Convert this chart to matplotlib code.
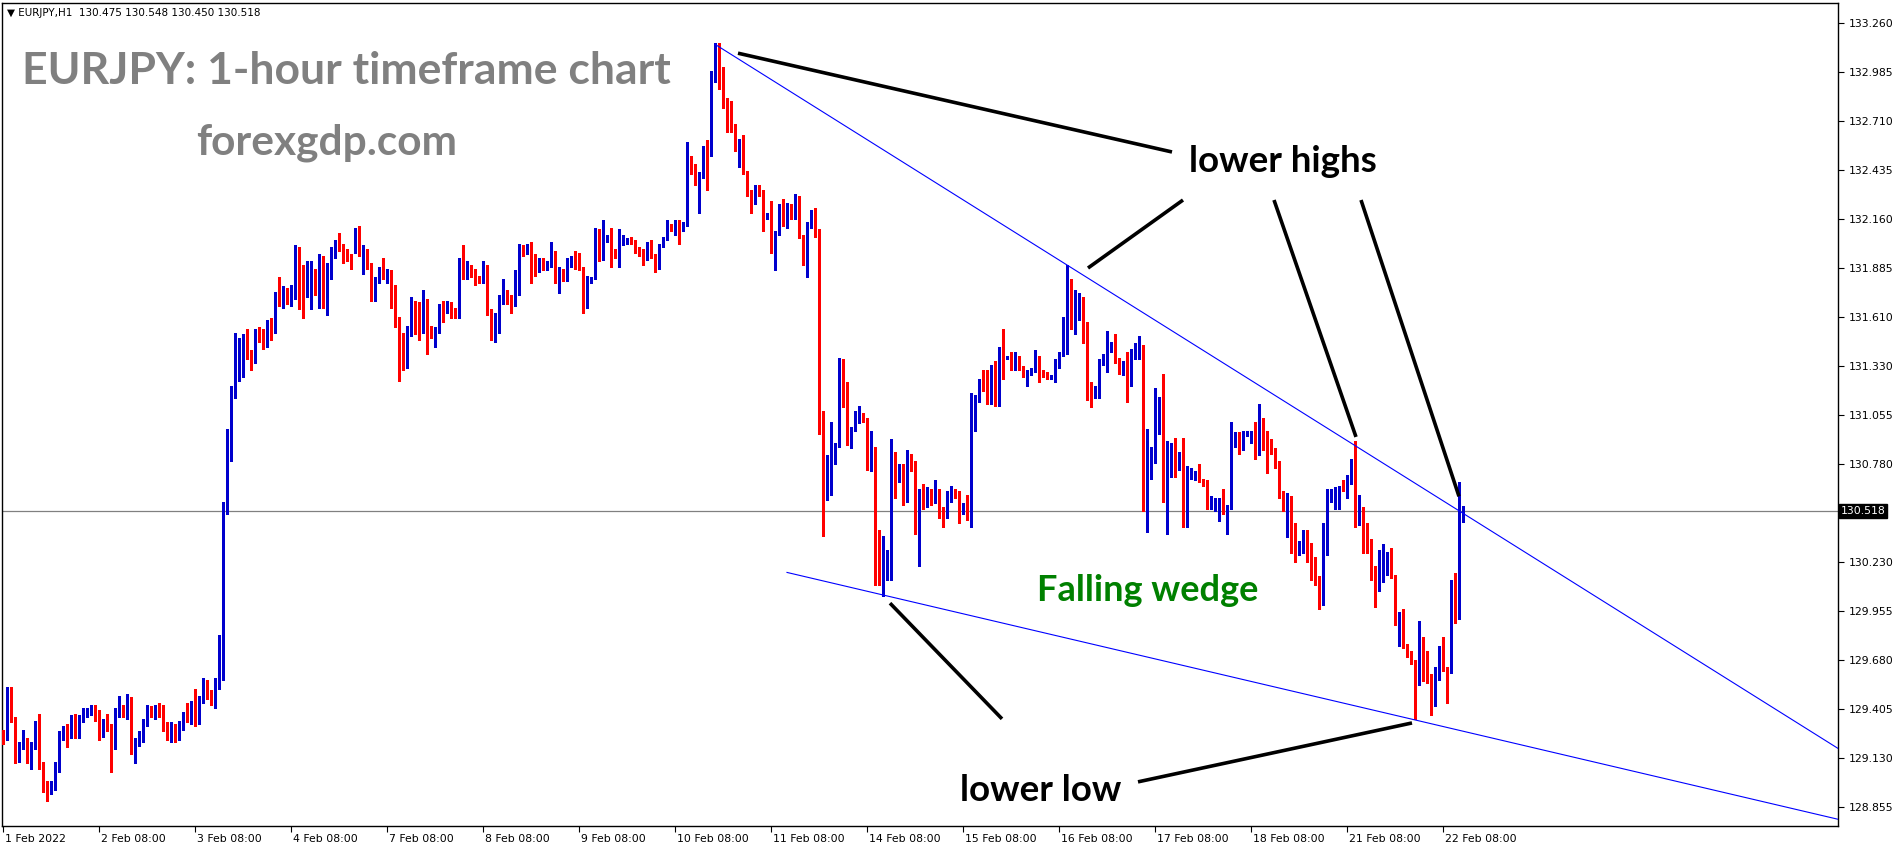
import matplotlib
matplotlib.use("Agg")
import matplotlib.pyplot as plt
import matplotlib.transforms as mtransforms

# EURJPY H1 candles, bar 0 = 1 Feb 08:00 ... bar 365 = 22 Feb 13:00
closes = [
    129.24, 129.50, 129.35, 129.14, 129.20, 129.22, 129.13, 129.20, 129.28, 129.10, 128.98, 128.96,
    128.97, 129.06, 129.25, 129.28, 129.26, 129.35, 129.27, 129.35, 129.38, 129.39, 129.41, 129.37,
    129.27, 129.33, 129.31, 129.20, 129.39, 129.41, 129.38, 129.44, 129.16, 129.22, 129.25, 129.33,
    129.39, 129.38, 129.41, 129.38, 129.31, 129.25, 129.30, 129.26, 129.31, 129.36, 129.35, 129.43,
    129.34, 129.46, 129.53, 129.49, 129.47, 129.55, 129.69, 130.56, 130.82, 131.18, 131.27, 131.44,
    131.49, 131.40, 131.38, 131.52, 131.51, 131.46, 131.58, 131.52, 131.75, 131.71, 131.73, 131.71,
    131.74, 131.99, 131.88, 131.76, 131.78, 131.86, 131.74, 131.93, 131.67, 131.89, 131.96, 132.01,
    132.00, 131.95, 131.94, 131.90, 132.07, 131.98, 131.99, 131.91, 131.75, 131.82, 131.85, 131.84,
    131.85, 131.76, 131.60, 131.38, 131.36, 131.53, 131.70, 131.66, 131.61, 131.66, 131.53, 131.50,
    131.53, 131.68, 131.66, 131.67, 131.64, 131.63, 131.92, 131.85, 131.89, 131.84, 131.83, 131.81,
    131.88, 131.63, 131.58, 131.60, 131.70, 131.75, 131.73, 131.68, 131.74, 131.98, 131.97, 132.01,
    131.93, 131.87, 131.94, 131.90, 131.91, 131.95, 131.85, 131.87, 131.84, 131.91, 131.94, 131.90,
    131.88, 131.67, 131.82, 131.83, 132.07, 131.94, 132.04, 132.05, 131.99, 131.95, 132.02, 132.04,
    132.04, 132.03, 131.99, 131.97, 131.95, 132.01, 131.95, 131.89, 132.01, 132.05, 132.12, 132.10,
    132.12, 132.11, 132.13, 132.50, 132.46, 132.40, 132.41, 132.55, 132.52, 132.96, 133.08, 133.00,
    132.83, 132.70, 132.66, 132.55, 132.60, 132.42, 132.31, 132.25, 132.33, 132.30, 132.17, 132.17,
    132.00, 132.08, 132.21, 132.13, 132.23, 132.18, 132.25, 132.06, 132.00, 132.13, 132.19, 132.07,
    130.96, 130.62, 130.75, 130.99, 130.89, 131.35, 131.12, 130.95, 130.98, 131.02, 131.05, 131.03,
    130.85, 130.86, 130.18, 130.13, 130.27, 130.28, 130.78, 130.69, 130.77, 130.67, 130.83, 130.79,
    130.40, 130.63, 130.57, 130.63, 130.59, 130.63, 130.51, 130.49, 130.62, 130.63, 130.62, 130.52,
    130.54, 130.48, 131.14, 131.16, 131.23, 131.22, 131.15, 131.33, 131.12, 131.42, 131.38, 131.38,
    131.32, 131.35, 131.32, 131.29, 131.30, 131.31, 131.38, 131.30, 131.29, 131.27, 131.27, 131.35,
    131.40, 131.54, 131.80, 131.59, 131.67, 131.69, 131.48, 131.23, 131.19, 131.20, 131.35, 131.35,
    131.43, 131.44, 131.37, 131.30, 131.34, 131.23, 131.39, 131.42, 131.44, 130.56, 130.73, 130.87,
    130.97, 131.15, 130.71, 130.76, 130.86, 130.76, 130.83, 130.50, 130.71, 130.71, 130.72, 130.69,
    130.68, 130.54, 130.54, 130.57, 130.58, 130.52, 130.54, 130.89, 130.95, 130.87, 130.95, 130.95,
    130.96, 130.89, 131.03, 130.94, 130.90, 130.85, 130.79, 130.60, 130.53, 130.59, 130.34, 130.28,
    130.33, 130.40, 130.33, 130.25, 130.13, 130.09, 130.41, 130.58, 130.58, 130.59, 130.65, 130.64,
    130.70, 130.72, 130.52, 130.53, 130.43, 130.35, 130.20, 130.13, 130.19, 130.19, 130.26, 130.15,
    129.89, 129.90, 129.76, 129.72, 129.67, 129.62, 129.80, 129.67, 129.59, 129.43, 129.63, 129.72,
    129.63, 129.62, 130.12, 129.92, 130.47, 130.518,
]
first_open = 129.27
gap_opens = {88: 132.05, 208: 130.79, 365: 130.475}   # weekend gaps / last bar

# wick lengths beyond the body, one base-36 digit per bar, in 0.01 yen
wick_up = "".join([
    "23312722", "6a123533", "42323222", "32512725", "32324323", "52323382",
    "925423d1", "g4p52522", "33120854", "5212e623", "22437242", "45200149",
    "3231e320", "3a532023", "22293141", "42233710", "d4312300", "18321314",
    "712043b2", "60831211", "22311131", "33191112", "537711c3", "13112222",
    "91362154", "11233c83", "132c1662", "1b2nb2e7", "11311142", "16131311",
    "27413891", "32c13641", "11411112", "17a2953a", "1225a371", "274461p1",
    "o1ef472a", "65261162", "161d1122", "16913221", "331b2111", "12466614",
    "29j81211", "be351571", "11a16114", "9115l3",
])
wick_dn = "".join([
    "31243236", "23473212", "72332223", "423f2323", "16232232", "32343223",
    "3223463c", "6232h373", "43240453", "43ng4d18", "15722422", "83d35522",
    "4a5d543f", "d9d16183", "43333141", "11ab8255", "1121d313", "325b3322",
    "14121211", "a1612122", "52131111", "392155l2", "k13b5511", "a1261181",
    "3d112221", "ah211o4e", "11268111", "ab839efa", "1ca51j43", "43361537",
    "215h3333", "11c11112", "72162113", "31e58829", "94515221", "2a1254g3",
    "82ew5517", "71212112", "b2d11311", "5868h131", "1g6515ac", "3cae1561",
    "5398f77f", "67311d12", "1r8b4616", "1i1312",
])

price_ticks = [133.260, 132.985, 132.710, 132.435, 132.160, 131.885, 131.610, 131.330,
               131.055, 130.780, 130.230, 129.955, 129.680, 129.405, 129.130, 128.855]
date_labels = ["1 Feb 2022", "2 Feb 08:00", "3 Feb 08:00", "4 Feb 08:00", "7 Feb 08:00",
               "8 Feb 08:00", "9 Feb 08:00", "10 Feb 08:00", "11 Feb 08:00", "14 Feb 08:00",
               "15 Feb 08:00", "16 Feb 08:00", "17 Feb 08:00", "18 Feb 08:00", "21 Feb 08:00",
               "22 Feb 08:00"]
bars_per_label = 24
last_price = 130.518

# wedge lines: (bar, price) anchors
upper_pts = [(178, 133.14), (266, 131.90)]
lower_pts = [(220, 130.046), (353, 129.344)]
lower_start = 196

BULL = "#0000CD"
BEAR = "#FF0000"

n = len(closes)
opens = [gap_opens.get(i, closes[i - 1] if i else first_open) for i in range(n)]
highs = [max(o, c) + int(u, 36) * 0.01 for o, c, u in zip(opens, closes, wick_up)]
lows = [min(o, c) - int(d, 36) * 0.01 for o, c, d in zip(opens, closes, wick_dn)]

W, H = 1902, 850
fig = plt.figure(figsize=(W / 100, H / 100), dpi=100)
ax = fig.add_axes([2 / W, 24 / H, 1836 / W, 823 / H])
xmin, xmax = -0.25, 458.75
ax.set_xlim(xmin, xmax)
ax.set_ylim(128.748, 133.372)

# candles, drawn crisp like the terminal does
xs = list(range(n))
cols = [BULL if c >= o else BEAR for o, c in zip(opens, closes)]
ax.vlines(xs, lows, highs, colors=cols, linewidth=0.75, zorder=3, antialiased=False)
body_h = [max(abs(c - o), 0.006) for o, c in zip(opens, closes)]
body_b = [min(o, c) for o, c in zip(opens, closes)]
ax.bar(xs, body_h, bottom=body_b, width=0.75, color=cols, linewidth=0, zorder=4,
       antialiased=False)

# current price line
ax.axhline(last_price, color="#808080", lw=0.9, zorder=2)

# falling wedge lines (rays to the right edge)
(ux0, uy0), (ux1, uy1) = upper_pts
us = (uy1 - uy0) / (ux1 - ux0)
ax.plot([ux0, xmax], [uy0, uy0 + us * (xmax - ux0)], color="#0000FF", lw=0.8, zorder=5)
(lx0, ly0), (lx1, ly1) = lower_pts
ls = (ly1 - ly0) / (lx1 - lx0)
ax.plot([lower_start, xmax], [ly0 + ls * (lower_start - lx0), ly0 + ls * (xmax - lx0)],
        color="#0000FF", lw=0.8, zorder=5)

# annotation pointers
pointers = [
    ((183.75, 133.09), (292.25, 132.535)),
    ((295.0, 132.265), (271.25, 131.883)),
    ((317.75, 132.265), (338.25, 130.934)),
    ((339.5, 132.265), (364.0, 130.60)),
    ((221.75, 130.00), (249.75, 129.35)),
    ((283.75, 128.996), (352.25, 129.327)),
]
for (x0, y0), (x1, y1) in pointers:
    ax.plot([x0, x1], [y0, y1], color="black", lw=2.6, solid_capstyle="butt", zorder=6)

ann_font = ["Lato", "DejaVu Sans"]
ax.text(320.0, 132.48, "lower highs", fontsize=26.5, fontweight="bold", family=ann_font,
        ha="center", va="center", color="black", zorder=7)
ax.text(259.5, 128.945, "lower low", fontsize=26.5, fontweight="bold", family=ann_font,
        ha="center", va="center", color="black", zorder=7)
ax.text(286.25, 130.07, "Falling wedge", fontsize=26, fontweight="bold", family=ann_font,
        ha="center", va="center", color="#008000", zorder=7)

# axes styling like the MT4 window
for side in ["left", "right", "top", "bottom"]:
    ax.spines[side].set_linewidth(1.0)
    ax.spines[side].set_color("black")
ax.yaxis.tick_right()
ax.set_yticks(price_ticks)
ax.set_yticklabels([f"{p:.3f}" for p in price_ticks])
ax.tick_params(axis="y", direction="out", length=4, width=0.8, pad=4, labelsize=7.8,
               colors="black")
ax.set_xticks([k * bars_per_label for k in range(len(date_labels))])
ax.set_xticklabels(date_labels, ha="left")
ax.tick_params(axis="x", direction="out", length=4, width=0.8, pad=2, labelsize=7.8,
               colors="black")
offset = mtransforms.ScaledTranslation(2 / 100, 0, fig.dpi_scale_trans)
for lab in ax.get_xticklabels():
    lab.set_transform(lab.get_transform() + offset)

# price tag on the right axis
tag_tr = mtransforms.blended_transform_factory(ax.transAxes, ax.transData)
ax.text(1.0015, last_price, f"{last_price:.3f}", transform=tag_tr, fontsize=7.8,
        color="white", ha="left", va="center", zorder=8,
        bbox=dict(boxstyle="square,pad=0.15", fc="black", ec="black"))

# header and watermark texts
fig.text(7 / W, 1 - 13 / H, "▼ EURJPY,H1  130.475 130.548 130.450 130.518", fontsize=7.5,
         color="black", ha="left", va="center")
fig.text(22 / W, 1 - 71 / H, "EURJPY: 1-hour timeframe chart", fontsize=32,
         fontweight="bold", family=ann_font, color="#808080", ha="left", va="center")
fig.text(196 / W, 1 - 143 / H, "forexgdp.com", fontsize=30.5, fontweight="bold",
         family=ann_font, color="#808080", ha="left", va="center")

fig.savefig("out.png", dpi=100)
